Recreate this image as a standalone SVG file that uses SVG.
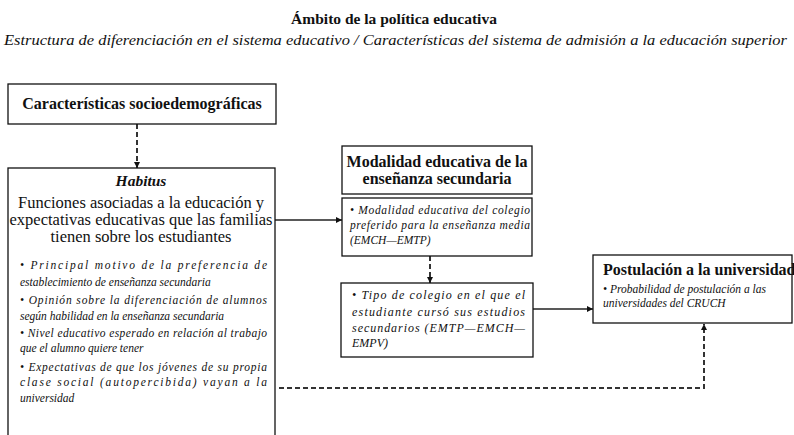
<svg xmlns="http://www.w3.org/2000/svg" width="794" height="435" viewBox="0 0 794 435">
<defs>
<marker id="ah" viewBox="0 0 10 10" refX="10" refY="5" markerWidth="6" markerHeight="6" orient="auto" markerUnits="userSpaceOnUse">
<path d="M0,0 L10,5 L0,10 z" fill="#111"/>
</marker>
</defs>
<rect width="794" height="435" fill="#fff"/>
<g id="header" fill="#111">
<text font-family="Liberation Serif" font-weight="bold" x="394" y="24" font-size="15.5" text-anchor="middle">Ámbito de la política  educativa</text>
<text font-family="Liberation Serif" font-style="italic" x="4" y="45" font-size="14" textLength="783" lengthAdjust="spacingAndGlyphs">Estructura de diferenciación en el sistema educativo / Características del sistema de admisión a la educación superior</text>
</g>
<g id="connectors" fill="none">
<g stroke="#333" stroke-width="2" stroke-dasharray="5 3">
<line x1="137" y1="124" x2="137" y2="168" marker-end="url(#ah)"/>
<line x1="430" y1="256" x2="430" y2="283" marker-end="url(#ah)"/>
<path d="M279,388 H704 V324" marker-end="url(#ah)"/>
</g>
<g stroke="#222" stroke-width="1.3">
<line x1="275" y1="220" x2="342" y2="220" marker-end="url(#ah)"/>
<line x1="533" y1="309" x2="593" y2="309" marker-end="url(#ah)"/>
</g>
</g>
<g id="socio">
<rect fill="#fff" stroke="#111" stroke-width="1.3" x="8" y="84" width="268" height="40"/>
<text font-family="Liberation Serif" font-weight="bold" fill="#111" x="142" y="109" font-size="16" text-anchor="middle">Características socioedemográficas</text>
</g>
<g id="habitus" fill="#111">
<rect fill="#fff" stroke="#111" stroke-width="1.3" x="8" y="168" width="267" height="300"/>
<text font-family="Liberation Serif" font-weight="bold" font-style="italic" x="141" y="186" font-size="15.5" text-anchor="middle">Habitus</text>
<text font-family="Liberation Serif" x="141" y="208" font-size="16.5" text-anchor="middle">Funciones asociadas a la educación y</text>
<text font-family="Liberation Serif" x="141" y="225" font-size="16.5" text-anchor="middle">expectativas educativas que las familias</text>
<text font-family="Liberation Serif" x="141" y="242" font-size="16.5" text-anchor="middle">tienen sobre los estudiantes</text>
<text font-family="Liberation Serif" font-style="italic" font-size="11.5" x="20" y="269" textLength="247" lengthAdjust="spacing">• Principal motivo de la preferencia de</text>
<text font-family="Liberation Serif" font-style="italic" font-size="11.5" x="20" y="286">establecimiento de enseñanza secundaria</text>
<text font-family="Liberation Serif" font-style="italic" font-size="11.5" x="20" y="304" textLength="247" lengthAdjust="spacing">• Opinión sobre la diferenciación de alumnos</text>
<text font-family="Liberation Serif" font-style="italic" font-size="11.5" x="20" y="320">según habilidad en la enseñanza secundaria</text>
<text font-family="Liberation Serif" font-style="italic" font-size="11.5" x="20" y="337" textLength="247" lengthAdjust="spacing">• Nivel educativo esperado en relación al trabajo</text>
<text font-family="Liberation Serif" font-style="italic" font-size="11.5" x="20" y="352">que el alumno quiere tener</text>
<text font-family="Liberation Serif" font-style="italic" font-size="11.5" x="20" y="371" textLength="247" lengthAdjust="spacing">• Expectativas de que los jóvenes de su propia</text>
<text font-family="Liberation Serif" font-style="italic" font-size="11.5" x="20" y="386" textLength="247" lengthAdjust="spacing">clase social (autopercibida) vayan a la</text>
<text font-family="Liberation Serif" font-style="italic" font-size="11.5" x="20" y="402">universidad</text>
</g>
<g id="modalidad-title" fill="#111">
<rect fill="#fff" stroke="#111" stroke-width="1.3" x="342" y="146" width="190" height="48"/>
<text font-family="Liberation Serif" font-weight="bold" x="437" y="167" font-size="16" text-anchor="middle">Modalidad educativa de la</text>
<text font-family="Liberation Serif" font-weight="bold" x="437" y="184" font-size="16" text-anchor="middle">enseñanza secundaria</text>
</g>
<g id="modalidad" fill="#111">
<rect fill="#fff" stroke="#111" stroke-width="1.3" x="342" y="198" width="190" height="58"/>
<text font-family="Liberation Serif" font-style="italic" font-size="11.5" x="350" y="214" textLength="180" lengthAdjust="spacing">• Modalidad educativa del colegio</text>
<text font-family="Liberation Serif" font-style="italic" font-size="11.5" x="350" y="229" textLength="180" lengthAdjust="spacing">preferido para la enseñanza media</text>
<text font-family="Liberation Serif" font-style="italic" font-size="11.5" x="350" y="244">(EMCH—EMTP)</text>
</g>
<g id="tipo" fill="#111">
<rect fill="#fff" stroke="#111" stroke-width="1.3" x="341" y="283" width="192" height="74"/>
<text font-family="Liberation Serif" font-style="italic" font-size="12" x="352" y="299" textLength="173" lengthAdjust="spacing">• Tipo de colegio en el que el</text>
<text font-family="Liberation Serif" font-style="italic" font-size="12" x="352" y="316" textLength="173" lengthAdjust="spacing">estudiante cursó sus estudios</text>
<text font-family="Liberation Serif" font-style="italic" font-size="12" x="352" y="332" textLength="173" lengthAdjust="spacing">secundarios (EMTP—EMCH—</text>
<text font-family="Liberation Serif" font-style="italic" font-size="12" x="352" y="347">EMPV)</text>
</g>
<g id="postulacion" fill="#111">
<rect fill="#fff" stroke="#111" stroke-width="1.3" x="593" y="255" width="199" height="68"/>
<text font-family="Liberation Serif" font-weight="bold" x="603" y="275" font-size="16">Postulación a la universidad</text>
<text font-family="Liberation Serif" font-style="italic" font-size="11.5" x="603" y="293">• Probabilidad de postulación a las</text>
<text font-family="Liberation Serif" font-style="italic" font-size="11.5" x="603" y="307">universidades del CRUCH</text>
</g>
</svg>
